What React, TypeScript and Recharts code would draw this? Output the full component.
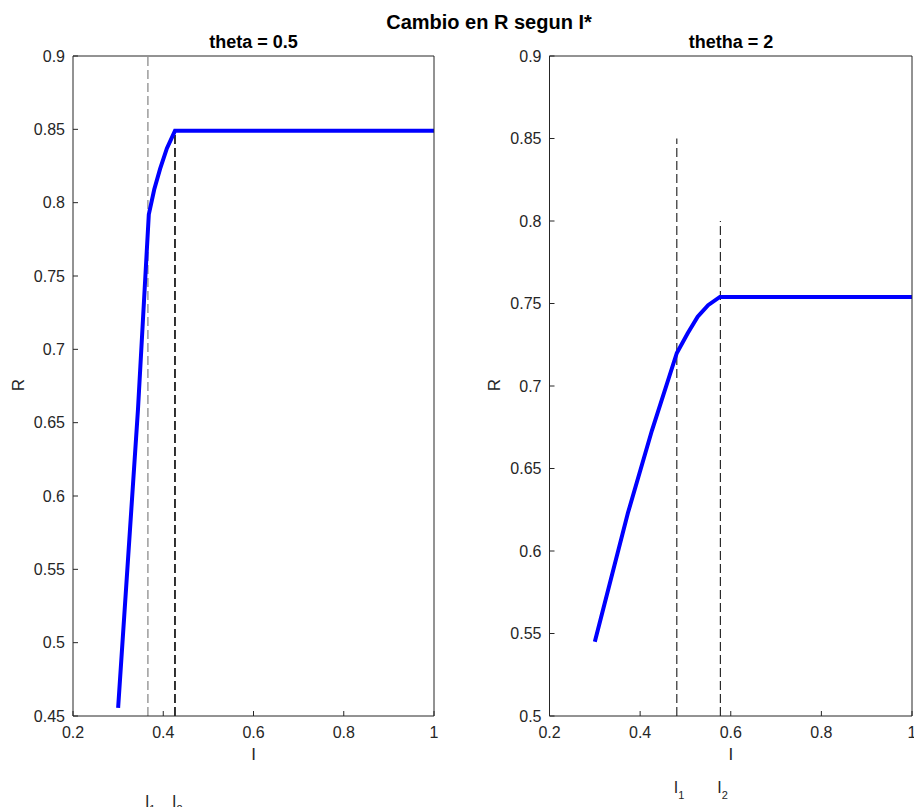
import { LineChart, Line, XAxis, YAxis, ReferenceLine } from 'recharts';

// theta = 0.5
const leftI = [0.3, 0.344, 0.355, 0.368, 0.38, 0.393, 0.408, 0.426, 1];
const leftR = [0.4555, 0.659, 0.72, 0.792, 0.809, 0.823, 0.837, 0.849, 0.849];
const leftCuts = [0.366, 0.426];
const leftCutTops = [0.9, 0.849];

// thetha = 2
const rightI = [0.3, 0.373, 0.426, 0.481, 0.505, 0.527, 0.55, 0.576, 1];
const rightR = [0.545, 0.623, 0.673, 0.72, 0.732, 0.742, 0.749, 0.754, 0.754];
const rightCuts = [0.481, 0.577];
const rightCutTops = [0.85, 0.8];

const cutSubs = ['1', '2'];
const xTicks = [0.2, 0.4, 0.6, 0.8, 1];
const leftYTicks = [0.45, 0.5, 0.55, 0.6, 0.65, 0.7, 0.75, 0.8, 0.85, 0.9];
const rightYTicks = [0.5, 0.55, 0.6, 0.65, 0.7, 0.75, 0.8, 0.85, 0.9];

const FONT = '"Liberation Sans", Arial, Helvetica, sans-serif';
const AXIS = '#262626';

const subLabel = (sub: string, drop: number) => (props: any) => {
  const vb = props.viewBox || {};
  const x = (vb.x ?? 0) - 3;
  const y = (vb.y ?? 0) + (vb.height ?? 0) + drop;
  return (
    <text x={x} y={y} fill={AXIS} fontSize={16} fontFamily={FONT}>
      I<tspan dy={6} fontSize={11}>{sub}</tspan>
    </text>
  );
};

interface PanelProps {
  xs: number[];
  ys: number[];
  yTicks: number[];
  cuts: number[];
  cutTops: number[];
  cutColors: string[];
  cutWidths: number[];
  labelDrop: number;
  width: number;
  yAxisWidth: number;
  rightMargin: number;
}

const Panel = ({ xs, ys, yTicks, cuts, cutTops, cutColors, cutWidths, labelDrop, width, yAxisWidth, rightMargin }: PanelProps) => {
  const data = xs.map((I, i) => ({ I, R: ys[i] }));
  const yMin = yTicks[0];
  const yMax = yTicks[yTicks.length - 1];
  const tickStyle = { fill: AXIS, fontSize: 16, fontFamily: FONT };

  return (
    <LineChart width={width} height={807} data={data} margin={{ top: 55, right: rightMargin, left: 0, bottom: 0 }}>
      <XAxis
        xAxisId="b"
        dataKey="I"
        type="number"
        domain={[0.2, 1]}
        ticks={xTicks}
        allowDataOverflow
        height={91}
        stroke={AXIS}
        tick={tickStyle}
        tickSize={-5}
        tickMargin={16}
        interval={0}
        label={{ value: 'I', position: 'insideTop', offset: 32, fill: AXIS, fontSize: 17, fontFamily: FONT }}
      />
      <XAxis
        xAxisId="t"
        orientation="top"
        type="number"
        domain={[0.2, 1]}
        ticks={xTicks}
        allowDataOverflow
        height={1}
        stroke={AXIS}
        tick={false}
        tickSize={-5}
        interval={0}
      />
      <YAxis
        yAxisId="l"
        type="number"
        domain={[yMin, yMax]}
        ticks={yTicks}
        allowDataOverflow
        width={yAxisWidth}
        stroke={AXIS}
        tick={tickStyle}
        tickSize={-5}
        tickMargin={13}
        interval={0}
      />
      <YAxis
        yAxisId="r"
        orientation="right"
        type="number"
        domain={[yMin, yMax]}
        ticks={yTicks}
        allowDataOverflow
        width={1}
        stroke={AXIS}
        tick={false}
        tickSize={-5}
        interval={0}
      />
      {cuts.map((c, i) => (
        <ReferenceLine
          key={i}
          xAxisId="b"
          yAxisId="l"
          segment={[{ x: c, y: yMin }, { x: c, y: cutTops[i] }]}
          stroke={cutColors[i]}
          strokeWidth={cutWidths[i]}
          strokeDasharray="9 4"
          label={{ content: subLabel(cutSubs[i], labelDrop) }}
        />
      ))}
      <Line
        xAxisId="b"
        yAxisId="l"
        dataKey="R"
        type="linear"
        stroke="#0000ff"
        strokeWidth={4}
        dot={false}
        activeDot={false}
        isAnimationActive={false}
      />
    </LineChart>
  );
};

const centered = (x: number, y: number, size: number) => ({
  position: 'absolute' as const,
  left: x,
  top: y,
  transform: 'translate(-50%, -50%)',
  fontFamily: FONT,
  fontWeight: 700,
  fontSize: size,
  lineHeight: 1,
  whiteSpace: 'nowrap' as const,
  color: '#000',
});

const yLabel = (x: number) => ({
  position: 'absolute' as const,
  left: x,
  top: 385,
  transform: 'translate(-50%, -50%) rotate(-90deg)',
  fontFamily: FONT,
  fontSize: 17,
  lineHeight: 1,
  color: AXIS,
});

export default function App() {
  return (
    <div style={{ position: 'absolute', left: 0, top: 0, width: 914, height: 807, background: '#fff', overflow: 'hidden' }}>
      <div style={{ position: 'absolute', left: 0, top: 0 }}>
        <Panel
          xs={leftI}
          ys={leftR}
          yTicks={leftYTicks}
          cuts={leftCuts}
          cutTops={leftCutTops}
          cutColors={['#8c8c8c', '#000']}
          cutWidths={[1.3, 1.6]}
          labelDrop={91}
          width={440}
          yAxisWidth={73}
          rightMargin={5}
        />
      </div>
      <div style={{ position: 'absolute', left: 476, top: 0 }}>
        <Panel
          xs={rightI}
          ys={rightR}
          yTicks={rightYTicks}
          cuts={rightCuts}
          cutTops={rightCutTops}
          cutColors={['#000', '#000']}
          cutWidths={[1, 1]}
          labelDrop={77}
          width={438}
          yAxisWidth={73.5}
          rightMargin={1}
        />
      </div>
      <div style={centered(489, 22, 20)}>Cambio en R segun I*</div>
      <div style={centered(253.5, 42, 18)}>theta = 0.5</div>
      <div style={centered(731, 42, 18)}>thetha = 2</div>
      <div style={yLabel(18)}>R</div>
      <div style={yLabel(494)}>R</div>
    </div>
  );
}
